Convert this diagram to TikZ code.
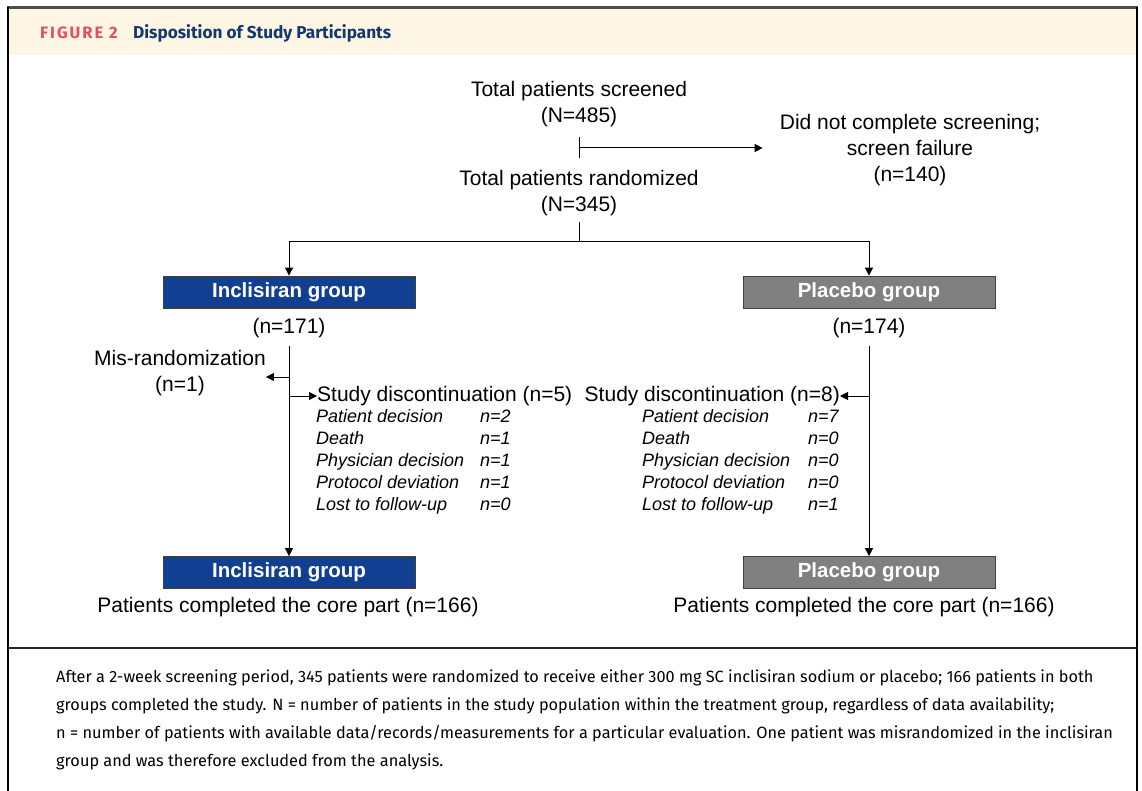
\documentclass[tikz,border=0pt]{standalone}
\usepackage{fontspec}
\setmainfont{Liberation Sans}
\newfontfamily\capfont{Fira Sans}
\usetikzlibrary{arrows.meta}
\definecolor{headcream}{HTML}{FDF6E5}
\definecolor{figred}{HTML}{EC4C5A}
\definecolor{headnavy}{HTML}{15386A}
\definecolor{inclblue}{HTML}{114092}
\definecolor{placgray}{HTML}{808080}
\begin{document}
\begin{tikzpicture}[x=1pt, y=-1pt,
    txt/.style={align=center, inner sep=0pt, font=\fontsize{21}{26}\selectfont},
    grp/.style={draw=black!75, line width=0.8pt, minimum width=252pt, minimum height=32pt, inner sep=0pt, text=white, font=\fontsize{20.5}{24}\selectfont\bfseries},
    why/.style={anchor=west, inner sep=0pt, text height=13pt, text depth=4pt, font=\fontsize{18}{22}\selectfont\itshape},
    link/.style={line width=1pt},
    arr/.style={line width=1pt, -{Triangle[length=8pt, width=8pt]}}]
  \useasboundingbox (0,0) rectangle (1142,791);
  % frame and header
  \fill[headcream] (8,9) rectangle (1137,55);
  \draw[black!70, line width=2.5pt] (7,7.5) -- (1138,7.5);
  \draw[line width=2pt] (8,7) -- (8,791);
  \draw[line width=2pt] (1137,7) -- (1137,791);
  \draw[black!85, line width=1.5pt] (8,648) -- (1137,648);
  \node[anchor=west, inner sep=0pt, text=figred, font=\capfont\fontsize{16.5}{19}\bfseries\selectfont\addfontfeature{LetterSpace=12}] (fig) at (40,33) {FIGURE 2};
  \node[anchor=west, inner sep=0pt, text=headnavy, font=\capfont\fontsize{17.2}{20}\bfseries\selectfont] (title) at (133,33) {Disposition of Study Participants};
  % screening
  \node[txt] (screened) at (579,104) {Total patients screened\\(N=485)};
  \node[txt] (fail) at (910,150) {Did not complete screening;\\screen failure\\(n=140)};
  \node[txt] (rand) at (579,193) {Total patients randomized\\(N=345)};
  \coordinate (tickA) at (579,137); \coordinate (tickB) at (579,158); \coordinate (tick) at (579,148);
  \draw[link] (tickA) -- (tickB);
  \draw[arr] (tick) -- ([xshift=-17pt]tick -| fail.west);
  % randomization
  \node[grp, fill=inclblue] (inclA) at (289,292) {Inclisiran group};
  \node[grp, fill=placgray] (placA) at (869,292) {Placebo group};
  \coordinate (randfoot) at (579,222); \coordinate (split) at (579,242);
  \draw[link] (randfoot) -- (split);
  \draw[arr] (split) -| (inclA.north);
  \draw[arr] (split) -| (placA.north);
  \node[txt] (nInc) at (289,328) {(n=171)};
  \node[txt] (nPla) at (869,328) {(n=174)};
  % inclisiran arm
  \node[txt] (misrand) at (180,373) {Mis-randomization\\(n=1)};
  \node[txt, anchor=west] (discI) at (317,396) {Study discontinuation (n=5)};
  \node[why] (rI1) at (316,418) {Patient decision};    \node[why] (vI1) at (480,418) {n=2};
  \node[why] (rI2) at (316,440) {Death};               \node[why] (vI2) at (480,440) {n=1};
  \node[why] (rI3) at (316,462) {Physician decision};  \node[why] (vI3) at (480,462) {n=1};
  \node[why] (rI4) at (316,484) {Protocol deviation};  \node[why] (vI4) at (480,484) {n=1};
  \node[why] (rI5) at (316,506) {Lost to follow-up};   \node[why] (vI5) at (480,506) {n=0};
  % placebo arm
  \node[txt, anchor=east] (discP) at (840,396) {Study discontinuation (n=8)};
  \node[why] (rP1) at (642,418) {Patient decision};    \node[why] (vP1) at (808,418) {n=7};
  \node[why] (rP2) at (642,440) {Death};               \node[why] (vP2) at (808,440) {n=0};
  \node[why] (rP3) at (642,462) {Physician decision};  \node[why] (vP3) at (808,462) {n=0};
  \node[why] (rP4) at (642,484) {Protocol deviation};  \node[why] (vP4) at (808,484) {n=0};
  \node[why] (rP5) at (642,506) {Lost to follow-up};   \node[why] (vP5) at (808,506) {n=1};
  % completed
  \node[grp, fill=inclblue] (inclB) at (289,572.5) {Inclisiran group};
  \node[grp, fill=placgray] (placB) at (869,572.5) {Placebo group};
  \node[txt] (doneI) at (288,607) {Patients completed the core part (n=166)};
  \node[txt] (doneP) at (864,607) {Patients completed the core part (n=166)};
  \coordinate (incTop) at (289,346); \coordinate (plaTop) at (869,346);
  \coordinate (misfork) at (289,377); \coordinate (discforkI) at (289,396); \coordinate (discforkP) at (869,396);
  \draw[arr] (incTop) -- (inclB.north);
  \draw[arr] (plaTop) -- (placB.north);
  \draw[arr] (misfork) -- (misfork -| misrand.east);
  \draw[arr] (discforkI) -- (discI.west);
  \draw[arr] (discforkP) -- (discP.east);
  % caption
  \node[anchor=north west, align=left, inner sep=0pt, font=\capfont\fontsize{16.3}{28}\selectfont] (caption) at (56,670)
    {After a 2-week screening period, 345 patients were randomized to receive either 300 mg SC inclisiran sodium or placebo; 166 patients in both\\
     groups completed the study. N = number of patients in the study population within the treatment group, regardless of data availability;\\
     n = number of patients with available data/records/measurements for a particular evaluation. One patient was misrandomized in the inclisiran\\
     group and was therefore excluded from the analysis.};
\end{tikzpicture}
\end{document}
